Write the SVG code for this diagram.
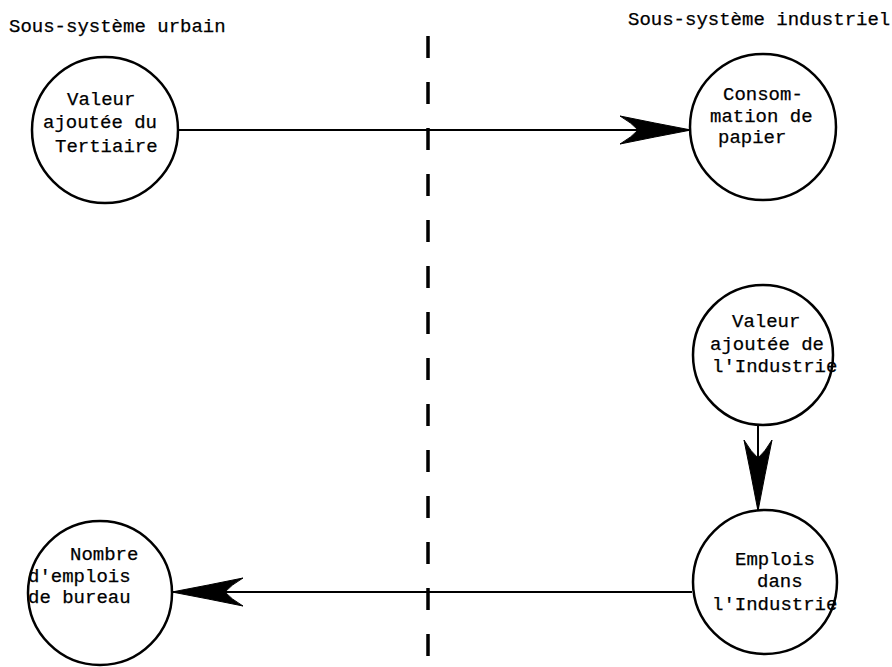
<svg xmlns="http://www.w3.org/2000/svg" width="892" height="667" viewBox="0 0 892 667">
<style>
  .bg { fill: #ffffff; }
  .node { fill: #ffffff; stroke: #000000; stroke-width: 2.5; }
  .lbl { font-family: "Liberation Mono", "DejaVu Sans Mono", monospace; font-size: 19px; fill: #000000; stroke: #000000; stroke-width: 0.25; }
  .edge { stroke: #000000; stroke-width: 2; fill: none; }
  .divider { stroke: #000000; stroke-width: 3.5; stroke-dasharray: 22 24; fill: none; }
</style>
<defs>
  <marker id="ah" markerUnits="userSpaceOnUse" viewBox="-72 -16 74 32" markerWidth="74" markerHeight="32" refX="0" refY="0" orient="auto" overflow="visible">
    <path d="M1,0 Q-36,-7 -70,-14 Q-58,-7 -52,0 Q-58,7 -70,14 Q-36,7 1,0 Z" fill="#000000" stroke="#000000" stroke-width="1"/>
  </marker>
</defs>
<rect class="bg" x="0" y="0" width="892" height="667"/>

<g id="titles">
  <text class="lbl" x="9" y="32">Sous-système urbain</text>
  <text class="lbl" x="628" y="25">Sous-système industriel</text>
</g>

<g id="divider">
  <line class="divider" x1="428" y1="36" x2="428" y2="662"/>
</g>

<g id="connectors">
  <line class="edge" x1="178" y1="130" x2="690" y2="130" marker-end="url(#ah)"/>
  <line class="edge" x1="758" y1="423" x2="758" y2="510" marker-end="url(#ah)"/>
  <line class="edge" x1="692" y1="592" x2="173" y2="592" marker-end="url(#ah)"/>
</g>

<g id="node-va-tertiaire">
  <circle class="node" cx="105" cy="130" r="73"/>
  <text class="lbl" x="67" y="105">Valeur</text>
  <text class="lbl" x="43" y="128">ajoutée du</text>
  <text class="lbl" x="55" y="152">Tertiaire</text>
</g>

<g id="node-conso-papier">
  <circle class="node" cx="763" cy="127" r="73"/>
  <text class="lbl" x="723" y="100">Consom-</text>
  <text class="lbl" x="710" y="122">mation de</text>
  <text class="lbl" x="718" y="143">papier</text>
</g>

<g id="node-va-industrie">
  <circle class="node" cx="763" cy="355" r="70"/>
  <text class="lbl" x="732" y="327">Valeur</text>
  <text class="lbl" x="710" y="350">ajoutée de</text>
  <text class="lbl" x="712" y="372">l'Industrie</text>
</g>

<g id="node-emplois-industrie">
  <circle class="node" cx="765" cy="582" r="72"/>
  <text class="lbl" x="735" y="565">Emplois</text>
  <text class="lbl" x="757" y="587">dans</text>
  <text class="lbl" x="712" y="610">l'Industrie</text>
</g>

<g id="node-emplois-bureau">
  <circle class="node" cx="100" cy="593" r="72"/>
  <text class="lbl" x="70" y="560">Nombre</text>
  <text class="lbl" x="28" y="582">d'emplois</text>
  <text class="lbl" x="28" y="603">de bureau</text>
</g>
</svg>
